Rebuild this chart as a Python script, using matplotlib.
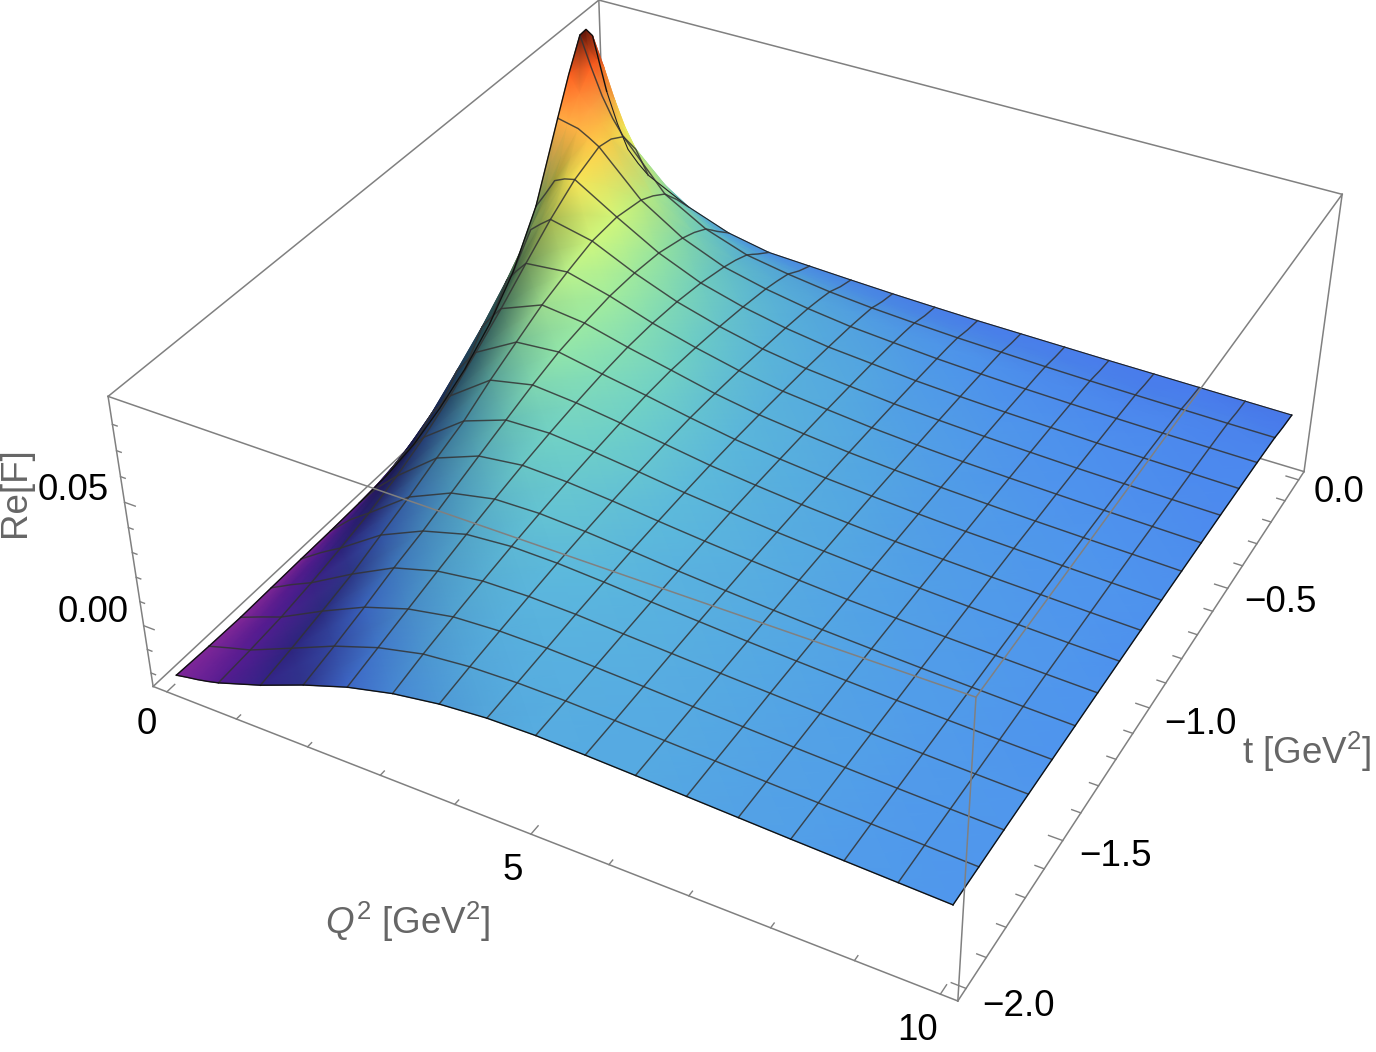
import numpy as np
import matplotlib
matplotlib.use("Agg")
import matplotlib.pyplot as plt
from matplotlib.collections import QuadMesh
from matplotlib.colors import LinearSegmentedColormap
from mpl_toolkits.mplot3d import proj3d

q_vals = [0, 0.15625, 0.3125, 0.46875, 0.625, 1.25, 1.875, 2.5, 3.125, 3.75, 4.375, 5, 5.625, 6.25, 6.875, 7.5, 8.125,
          8.75, 9.375, 10]
t_vals = [-2, -1.875, -1.75, -1.625, -1.5, -1.375, -1.25, -1.125, -1, -0.875, -0.75, -0.625, -0.5, -0.375, -0.25,
          -0.1875, -0.125, -0.09375, -0.0625, 0]
# Q^2 and t values that carry a mesh line in the picture
q_mesh = [0.625, 1.25, 1.875, 2.5, 3.125, 3.75, 4.375, 5, 5.625, 6.25, 6.875, 7.5, 8.125, 8.75, 9.375]
t_mesh = [-1.875, -1.75, -1.625, -1.5, -1.375, -1.25, -1.125, -1, -0.875, -0.75, -0.625, -0.5, -0.375, -0.25, -0.125]
# Re[F] x 1e4, one row per q_vals entry
re_f = [
    [-229, -235, -238, -235, -232, -230, -226, -218, -195, -145, -78, 15, 145, 334, 620, 760, 882, 885, 838, 560],
    [-220, -221, -220, -212, -202, -190, -175, -150, -112, -50, 28, 125, 250, 400, 610, 690, 760, 770, 720, 430],
    [-212, -207, -202, -188, -172, -150, -125, -85, -30, 50, 135, 235, 355, 470, 600, 640, 650, 635, 590, 330],
    [-202, -194, -185, -167, -145, -118, -85, -38, 25, 105, 192, 288, 392, 490, 575, 590, 565, 530, 480, 280],
    [-190, -181, -168, -146, -119, -87, -44, 10, 78, 158, 242, 335, 425, 500, 547, 535, 500, 450, 400, 240],
    [-128, -103, -74, -42, 2, 45, 95, 140, 204, 259, 313, 352, 385, 391, 369, 340, 301, 265, 230, 150],
    [-55, -24, 11, 51, 84, 125, 165, 204, 242, 274, 292, 304, 302, 289, 256, 232, 199, 170, 140, 85],
    [8, 40, 72, 104, 135, 163, 188, 209, 226, 239, 246, 244, 233, 213, 183, 163, 137, 115, 92, 50],
    [54, 84, 108, 130, 150, 167, 181, 192, 201, 207, 206, 196, 182, 164, 141, 125, 106, 88, 70, 42],
    [84, 103, 119, 134, 147, 157, 165, 170, 173, 172, 165, 155, 142, 128, 110, 97, 82, 68, 54, 34],
    [100, 109, 119, 129, 136, 142, 145, 146, 145, 141, 134, 125, 115, 102, 87, 77, 66, 54, 43, 27],
    [104, 108, 113, 118, 122, 125, 127, 127, 124, 119, 113, 106, 97, 87, 73, 65, 55, 45, 35, 22],
    [100, 102, 105, 108, 110, 111, 111, 109, 106, 101, 95, 88, 80, 71, 60, 54, 46, 37, 29, 18],
    [94, 95, 96, 98, 98, 98, 97, 95, 92, 88, 82, 75, 69, 61, 51, 46, 40, 32, 25, 16],
    [87, 88, 88, 89, 88, 87, 85, 83, 80, 76, 71, 65, 60, 53, 44, 40, 34, 28, 22, 14],
    [80, 80, 80, 80, 79, 78, 76, 74, 71, 67, 63, 58, 53, 47, 39, 35, 30, 25, 19, 12],
    [73, 73, 73, 72, 71, 70, 68, 66, 64, 61, 56, 52, 47, 41, 35, 31, 27, 22, 17, 11],
    [67, 67, 66, 65, 64, 63, 62, 60, 58, 55, 51, 47, 43, 38, 32, 29, 25, 20, 16, 10],
    [61, 61, 60, 59, 58, 57, 56, 54, 52, 50, 47, 43, 39, 35, 30, 27, 23, 19, 14, 9],
    [55, 55, 55, 54, 53, 52, 51, 49, 47, 45, 42, 39, 36, 32, 28, 25, 22, 17, 13, 8],
]

q_ticks = [0, 1, 2, 3, 4, 5, 6, 7, 8, 9, 10]
q_major = [0, 5, 10]
t_ticks = [-2, -1.9, -1.8, -1.7, -1.6, -1.5, -1.4, -1.3, -1.2, -1.1, -1, -0.9, -0.8, -0.7, -0.6, -0.5, -0.4, -0.3, -0.2, -0.1, 0]
t_major = [-2, -1.5, -1, -0.5, 0]
z_ticks = [-0.02, -0.01, 0, 0.01, 0.02, 0.03, 0.04, 0.05, 0.06, 0.07, 0.08]
z_major = [0, 0.05]

# colours along Re[F] x 1e4
c_levels = [-240, -190, -120, -60, -10, 10, 50, 90, 140, 200, 280, 380, 470, 560, 650, 760, 840, 900]
c_colors = ["#8a2aa0", "#5a1d96", "#3a2a9e", "#3a3eab", "#4368d8", "#4a7ef0", "#4f95ee", "#55a8e3", "#5cb8dc", "#6fd0c8",
            "#95e8a8", "#ccf880", "#ffff60", "#ffc848", "#ff9a40", "#ff6020", "#c02810", "#401008"]

plt.rcParams["font.family"] = "Liberation Sans"
plt.rcParams["mathtext.fontset"] = "custom"
plt.rcParams["mathtext.rm"] = "Liberation Sans"
plt.rcParams["mathtext.it"] = "Liberation Sans:italic"

W, H = 1376, 1052
fig = plt.figure(figsize=(W / 100, H / 100), dpi=100)
ax = fig.add_axes([0, -(W - H) / 2 / H, 1, W / H], projection="3d")
ax.set_axis_off()
ax.patch.set_visible(False)
ax.computed_zorder = False
ax.apply_aspect()

qlo, qhi, tlo, thi, zlo, zhi = -0.2, 10.2, -2.04, 0.04, -0.0258, 0.0905

# camera fitted to the box corners seen in the picture
box_px = [(qlo, tlo, zlo, 153, 686), (qlo, tlo, zhi, 108, 397), (qhi, tlo, zlo, 958, 1001), (qhi, tlo, zhi, 976, 697),
          (qhi, thi, zlo, 1304, 472), (qhi, thi, zhi, 1342, 194), (qlo, thi, zhi, 599, 0)]
A, b = [], []
for q, t, z, x, y in box_px:
    A.append([q, t, z * 100, 1, 0, 0, 0, 0, -x * q, -x * t, -x * z * 100])
    b.append(x)
    A.append([0, 0, 0, 0, q, t, z * 100, 1, -y * q, -y * t, -y * z * 100])
    b.append(y)
p = np.linalg.lstsq(np.array(A, float), np.array(b, float), rcond=None)[0]
P = np.append(p, 1).reshape(3, 4)
P[:, 2] *= 100

inv = ax.transData.inverted()
d0 = inv.transform((0, H))
d1 = inv.transform((W, 0))
sx, sy = (d1[0] - d0[0]) / W, (d1[1] - d0[1]) / H
M = np.array([sx * P[0] + d0[0] * P[2], sy * P[1] + d0[1] * P[2], [0, 0, 0, -1], P[2]])
ax.get_proj = lambda: M

Q, T = np.meshgrid(q_vals, t_vals, indexing="ij")
Z4 = np.array(re_f, float)
Z = Z4 * 1e-4

cmap = LinearSegmentedColormap.from_list(
    "re_f", [((v - c_levels[0]) / (c_levels[-1] - c_levels[0]), c) for v, c in zip(c_levels, c_colors)])
rgb = cmap((Z4 - c_levels[0]) / (c_levels[-1] - c_levels[0]))[..., :3]

# dark on the slope that faces away from the light
dz_dq = np.gradient(Z, np.array(q_vals), axis=0)
dz_dt = np.gradient(Z, np.array(t_vals), axis=1)
weight = np.clip((Z + 0.02) / 0.01, 0.25, 1)
limit = np.where(Z > 0.03, 0.4, 0.62)
shade = 1 - np.minimum(np.clip(dz_dq, 0, None) * 18 * weight, limit) - np.clip(np.clip(-dz_dt, 0, None) * 1.5, 0, 0.05)
rgb = rgb * np.clip(shade, 0.2, 1)[..., None]

sx2, sy2, _ = proj3d.proj_transform(Q.ravel(), T.ravel(), Z.ravel(), M)
coords = np.dstack([np.reshape(sx2, Q.shape), np.reshape(sy2, Q.shape)])[:, ::-1]
mesh = QuadMesh(coords, shading="gouraud", array=rgb[:, ::-1], transform=ax.transData, zorder=2)
mesh.do_3d_projection = lambda: 0
ax.add_collection(mesh, autolim=False)

# box edges
box_col = "#808080"
back = [((qlo, tlo, zhi), (qlo, thi, zhi)), ((qlo, thi, zhi), (qhi, thi, zhi)), ((qlo, thi, zhi), (qlo, thi, zlo)),
        ((qlo, tlo, zlo), (qlo, thi, zlo)), ((qlo, thi, zlo), (qhi, thi, zlo)),
        ((qlo, tlo, zlo), (qlo, tlo, zhi)), ((qhi, thi, zlo), (qhi, thi, zhi)),
        ((qlo, tlo, zlo), (qhi, tlo, zlo)), ((qhi, tlo, zlo), (qhi, thi, zlo))]
front = [((qlo, tlo, zhi), (qhi, tlo, zhi)), ((qhi, tlo, zhi), (qhi, thi, zhi)), ((qhi, tlo, zlo), (qhi, tlo, zhi))]
for a, c in back:
    ax.plot(*zip(a, c), color=box_col, lw=1.1, zorder=1)
for a, c in front:
    ax.plot(*zip(a, c), color=box_col, lw=1.1, zorder=5)

# ticks
for v in q_ticks:
    ln = 0.03 if v in q_major else 0.016
    ax.plot([v, v], [tlo, tlo + ln], [zlo, zlo], color=box_col, lw=1, zorder=1)
for v in t_ticks:
    ln = 0.17 if v in t_major else 0.11
    ax.plot([qhi, qhi - ln], [v, v], [zlo, zlo], color=box_col, lw=1, zorder=1)
for v in z_ticks:
    ln = 0.15 if v in z_major else 0.065
    ax.plot([qlo, qlo + ln], [tlo, tlo], [v, v], color=box_col, lw=1, zorder=1)

# mesh lines
for i, v in enumerate(q_vals):
    if v in q_mesh:
        ax.plot(Q[i], T[i], Z[i], color="#333333", lw=1.05, alpha=0.85, zorder=3)
for j, v in enumerate(t_vals):
    if v in t_mesh:
        ax.plot(Q[:, j], T[:, j], Z[:, j], color="#333333", lw=1.05, alpha=0.85, zorder=3)
# surface outline
ax.plot(Q[0], T[0], Z[0], color="#111111", lw=1, zorder=3)
ax.plot(Q[-1], T[-1], Z[-1], color="#111111", lw=1, zorder=3)
ax.plot(Q[:, 0], T[:, 0], Z[:, 0], color="#111111", lw=1, zorder=3)
ax.plot(Q[:, -1], T[:, -1], Z[:, -1], color="#222222", lw=0.8, zorder=2.5)


def put(x, y, s, **kw):
    fig.text(x / W, 1 - y / H, s, ha="center", va="center", **kw)


for x, y, s in [(147, 725, "0"), (513, 871, "5"), (918, 1031, "10"),
                (73, 490, "0.05"), (93, 613, "0.00"),
                (1339, 493, "0.0"), (1280, 603, "\u22120.5"), (1200, 725, "\u22121.0"),
                (1115, 856, "\u22121.5"), (1018, 1006, "\u22122.0")]:
    put(x, y, s, fontsize=26.5, color="black")
put(408, 922, r"$\mathit{Q}^{2}$ [GeV$^{2}$]", fontsize=26.5, color="#666666")
put(1307, 752, r"t [GeV$^{2}$]", fontsize=26.5, color="#666666")
put(16, 492, "Re[F]", fontsize=26.5, color="#666666", rotation=90)

fig.savefig("out.png", dpi=100)
